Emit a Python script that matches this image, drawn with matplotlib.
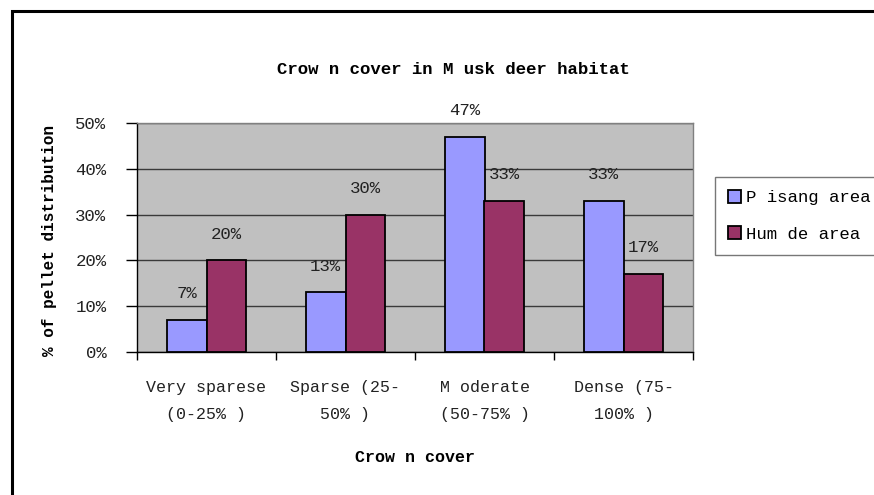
import numpy as np
import matplotlib.pyplot as plt
from matplotlib.patches import Rectangle

categories = ["Very sparese\n(0-25% )", "Sparse (25-\n50% )", "M oderate\n(50-75% )", "Dense (75-\n100% )"]
pisang = [7, 13, 47, 33]
humde = [20, 30, 33, 17]
series_names = ["P isang area", "Hum de area"]
yticks = [0, 10, 20, 30, 40, 50]

font = "Liberation Mono"
plt.rcParams['font.family'] = [font, 'DejaVu Sans']

W, H = 874, 495
fig = plt.figure(figsize=(W / 100, H / 100), dpi=100)
fig.patch.set_facecolor("white")

# outer chart border (runs off the right and bottom edges)
fig.add_artist(Rectangle((12 / W, -0.2), 2.0, 1.2 - 11 / H, transform=fig.transFigure,
                         fill=False, edgecolor="black", linewidth=2.2))

ax = fig.add_axes([137 / W, 1 - 352 / H, (693 - 137) / W, (352 - 123) / H])
ax.set_facecolor("#C0C0C0")

x = np.arange(len(categories))
w = 0.286
b1 = ax.bar(x - w / 2, pisang, w, color="#9999FF", edgecolor="black", linewidth=1.3, zorder=3,
            label=series_names[0])
b2 = ax.bar(x + w / 2, humde, w, color="#993366", edgecolor="black", linewidth=1.3, zorder=3,
            label=series_names[1])

for bars, vals in ((b1, pisang), (b2, humde)):
    for r, v in zip(bars, vals):
        ax.annotate(f"{v}%", (r.get_x() + r.get_width() / 2, v), xytext=(0, 19),
                    textcoords="offset points", ha="center", va="center", fontsize=12.5,
                    color="#222222", zorder=5)

ax.set_xlim(-0.5, len(categories) - 0.5)
ax.set_ylim(0, 50)
ax.set_yticks(yticks)
ax.set_yticklabels([f"{t}%" for t in yticks], fontsize=12.5, color="#222222")
ax.yaxis.grid(True, color="#3a3a3a", linewidth=1.0, zorder=1)
ax.set_axisbelow(True)
ax.tick_params(axis="y", length=8, width=1, pad=14, direction="out")

# category boundaries carry the ticks, names sit at the centres
ax.set_xticks(np.arange(len(categories) + 1) - 0.5)
ax.set_xticklabels([])
ax.set_xticks(x, minor=True)
ax.set_xticklabels(categories, minor=True, fontsize=12, color="#222222", linespacing=2.0)
ax.tick_params(axis="x", which="major", length=6, width=1, direction="out")
ax.tick_params(axis="x", which="minor", length=0, pad=20)

for s in ("top", "right"):
    ax.spines[s].set_color("#808080")
    ax.spines[s].set_linewidth(1.0)
for s in ("left", "bottom"):
    ax.spines[s].set_color("black")
    ax.spines[s].set_linewidth(1.0)

fig.text(453 / W, 1 - 70 / H, "Crow n cover in M usk deer habitat", ha="center", va="center",
         fontsize=12.5, fontweight="bold")
fig.text(50 / W, 1 - 240 / H, "% of pellet distribution", ha="center", va="center",
         rotation=90, fontsize=11.5, fontweight="bold")
fig.text(415 / W, 1 - 457 / H, "Crow n cover", ha="center", va="center",
         fontsize=12, fontweight="bold")

leg = fig.legend(handles=[b1, b2], loc="upper left", bbox_to_anchor=(715 / W, 1 - 177 / H),
                 frameon=True, fancybox=False, edgecolor="#555555", fontsize=12.5,
                 handlelength=0.75, handleheight=0.75, handletextpad=0.3, labelspacing=1.2,
                 borderpad=0.75, borderaxespad=0)
leg.get_frame().set_linewidth(1.0)

fig.savefig("out.png", dpi=100, facecolor="white")
